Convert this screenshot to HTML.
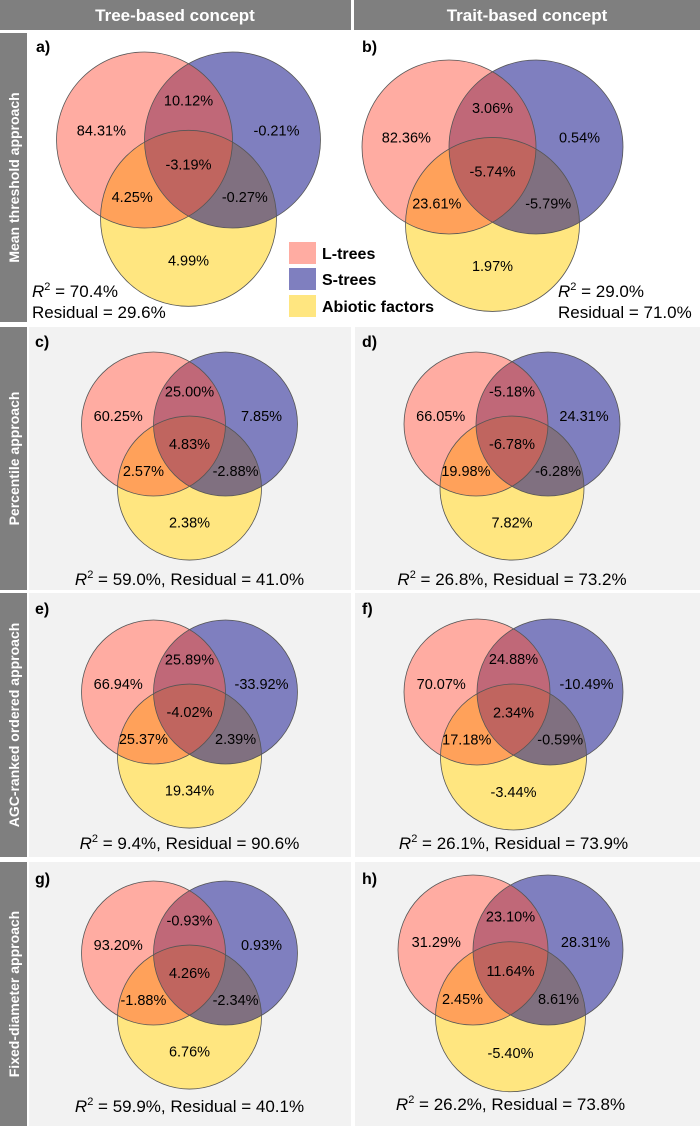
<!DOCTYPE html>
<html><head><meta charset="utf-8"><style>
body{margin:0;background:#fff;}
svg{display:block;font-family:"Liberation Sans",Arial,sans-serif;}
</style></head><body>
<svg id="fig" width="700" height="1128" viewBox="0 0 700 1128" xmlns="http://www.w3.org/2000/svg">
<rect x="0" y="0" width="351" height="30" fill="#7f7f7f"/>
<rect x="354" y="0" width="346" height="30" fill="#7f7f7f"/>
<text x="175" y="21" fill="#fff" font-size="17" font-weight="bold" text-anchor="middle">Tree-based concept</text>
<text x="527" y="21" fill="#fff" font-size="17" font-weight="bold" text-anchor="middle">Trait-based concept</text>
<g id="bg"></g>
<g id="panels"></g>
<g>
<rect x="289" y="242" width="27" height="22" fill="#ffaca2"/>
<rect x="289" y="268" width="27" height="22" fill="#7f7fbf"/>
<rect x="289" y="295" width="27" height="22" fill="#ffe680"/>
<text x="322" y="259" font-size="16" font-weight="bold">L-trees</text>
<text x="322" y="285" font-size="16" font-weight="bold">S-trees</text>
<text x="322" y="312" font-size="16" font-weight="bold">Abiotic factors</text>
</g>
</svg>
<script>
const panelLetters = ['a)','b)','c)','d)','e)','f)','g)','h)'];
const lOnly = [84.31, 82.36, 60.25, 66.05, 66.94, 70.07, 93.20, 31.29];
const lsShared = [10.12, 3.06, 25.00, -5.18, 25.89, 24.88, -0.93, 23.10];
const sOnly = [-0.21, 0.54, 7.85, 24.31, -33.92, -10.49, 0.93, 28.31];
const allShared = [-3.19, -5.74, 4.83, -6.78, -4.02, 2.34, 4.26, 11.64];
const laShared = [4.25, 23.61, 2.57, 19.98, 25.37, 17.18, -1.88, 2.45];
const saShared = [-0.27, -5.79, -2.88, -6.28, 2.39, -0.59, -2.34, 8.61];
const aOnly = [4.99, 1.97, 2.38, 7.82, 19.34, -3.44, 6.76, -5.40];
const r2 = [70.4, 29.0, 59.0, 26.8, 9.4, 26.1, 59.9, 26.2];
const residual = [29.6, 71.0, 41.0, 73.2, 90.6, 73.9, 40.1, 73.8];
const rowLabels = ['Mean threshold approach','Percentile approach','AGC-ranked ordered approach','Fixed-diameter approach'];

const NS='http://www.w3.org/2000/svg';
function mk(tag, attrs, parent){const e=document.createElementNS(NS,tag);for(const k in attrs)e.setAttribute(k,attrs[k]);parent.appendChild(e);return e;}
const svg=document.getElementById('fig');
const bg=document.getElementById('bg');
const pg=document.getElementById('panels');
const defs=mk('defs',{},svg);

const rows=[[33,322],[327,590],[593,857],[862,1126]];
rows.forEach((rw,i)=>{
  if(i>0){
    const r1=mk('rect',{x:29,y:rw[0],width:322,height:rw[1]-rw[0],fill:'#f2f2f2'},bg);
    
    
    const r2e=mk('rect',{x:355,y:rw[0],width:345,height:rw[1]-rw[0],fill:'#f2f2f2'},bg);
    
    
  }
  const bar=mk('rect',{x:0,y:rw[0],width:27,height:rw[1]-rw[0],fill:'#7f7f7f'},bg);
  
  
  const cy=(rw[0]+rw[1])/2;
  const t=mk('text',{x:19,y:cy,fill:'#fff','font-size':14,'font-weight':'bold','text-anchor':'middle',transform:`rotate(-90 19 ${cy})`},bg);
  t.textContent=rowLabels[i];
  
  
});

// layout geometry (not data)
const geom=[
  {lx:144.5,ly:140,r:88,px:36,py:52},
  {lx:449,ly:147,r:87,px:362,py:52},
  {lx:153.5,ly:424,r:72,px:35,py:347,ry:585},
  {lx:476,ly:424,r:72,px:362,py:347,ry:585},
  {lx:153.5,ly:692,r:72,px:35,py:614,ry:849},
  {lx:477,ly:692,r:73,px:362,py:614,ry:849},
  {lx:153.5,ly:953,r:72,px:35,py:884,ry:1112},
  {lx:473,ly:950,r:75,px:362,py:884,ry:1110}
];
function fmt(v){return v.toFixed(2)+'%';}
geom.forEach((g,i)=>{
  const r=g.r, L=[g.lx,g.ly], S=[g.lx+r,g.ly], A=[g.lx+0.5*r,g.ly+0.89*r];
  const cl='cL'+i, cs='cS'+i;
  const c1=mk('clipPath',{id:cl},defs); mk('circle',{cx:L[0],cy:L[1],r:r},c1);
  const c2=mk('clipPath',{id:cs},defs); mk('circle',{cx:S[0],cy:S[1],r:r},c2);
  const grp=mk('g',{},pg);
  
  
  const lt=mk('text',{x:g.px,y:g.py,'font-size':16,'font-weight':'bold'},grp);
  lt.textContent=panelLetters[i];
  
  
  const cL=mk('circle',{cx:L[0],cy:L[1],r:r,fill:'#ffaca2'},grp);
  
  
  const cS=mk('circle',{cx:S[0],cy:S[1],r:r,fill:'#7f7fbf'},grp);
  
  
  const cA=mk('circle',{cx:A[0],cy:A[1],r:r,fill:'#ffe680'},grp);
  
  
  mk('circle',{cx:S[0],cy:S[1],r:r,fill:'#c06878','clip-path':`url(#${cl})`},grp);
  mk('circle',{cx:A[0],cy:A[1],r:r,fill:'#ffa15a','clip-path':`url(#${cl})`},grp);
  mk('circle',{cx:A[0],cy:A[1],r:r,fill:'#807080','clip-path':`url(#${cs})`},grp);
  const inner=mk('g',{'clip-path':`url(#${cl})`},grp);
  mk('circle',{cx:A[0],cy:A[1],r:r,fill:'#c0655f','clip-path':`url(#${cs})`},inner);
  [L,S,A].forEach(c=>mk('circle',{cx:c[0],cy:c[1],r:r,fill:'none',stroke:'#555','stroke-width':0.8},grp));
  const labels=[
    [lOnly[i],-0.49,-0.11,'label-l-only'],
    [lsShared[i],0.5,-0.45,'label-l-s-shared'],
    [sOnly[i],1.5,-0.11,'label-s-only'],
    [allShared[i],0.5,0.28,'label-all-shared'],
    [laShared[i],-0.14,0.65,'label-l-a-shared'],
    [saShared[i],1.14,0.65,'label-s-a-shared'],
    [aOnly[i],0.5,1.37,'label-a-only']
  ];
  labels.forEach(lb=>{
    const t=mk('text',{x:g.lx+lb[1]*r,y:g.ly+lb[2]*r+5,'font-size':14.5,'text-anchor':'middle'},grp);
    t.textContent=fmt(lb[0]);
    
    
  });
  if(i<2){
    const x=i===0?32:558;
    const t1=mk('text',{x:x,y:297,'font-size':17},grp);
    t1.innerHTML='<tspan font-style="italic">R</tspan><tspan dy="-7" font-size="11">2</tspan><tspan dy="7"> = '+r2[i].toFixed(1)+'%</tspan>';
    
    
    const t2=mk('text',{x:x,y:318,'font-size':17},grp);
    t2.textContent='Residual = '+residual[i].toFixed(1)+'%';
    
    
  } else {
    const t=mk('text',{x:g.lx+0.5*r,y:g.ry,'font-size':17,'text-anchor':'middle'},grp);
    t.innerHTML='<tspan font-style="italic">R</tspan><tspan dy="-7" font-size="11">2</tspan><tspan dy="7"> = '+r2[i].toFixed(1)+'%, Residual = '+residual[i].toFixed(1)+'%</tspan>';
    
    
  }
});
</script>
</body></html>
